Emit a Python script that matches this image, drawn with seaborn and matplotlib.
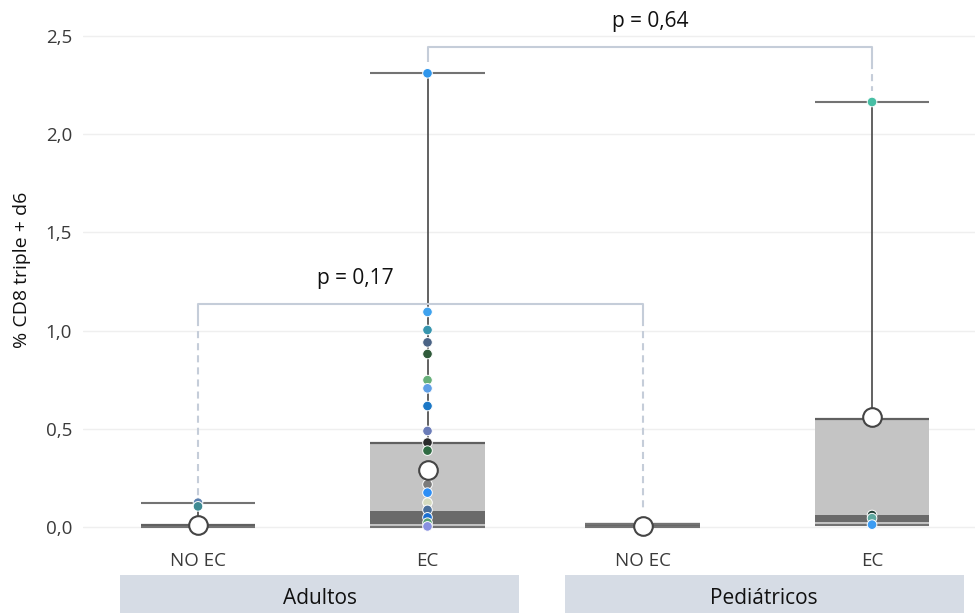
import matplotlib
matplotlib.use("Agg")
import matplotlib.pyplot as plt
import numpy as np
import pandas as pd
import seaborn as sns
from matplotlib.patches import Rectangle
from matplotlib.transforms import blended_transform_factory

# ---- data -------------------------------------------------------------
groups = ["Adultos", "Adultos", "Pediátricos", "Pediátricos"]
conditions = ["NO EC", "EC", "NO EC", "EC"]

box_min = [0.0, 0.0, 0.0, 0.012]
box_q1 = [0.0, 0.015, 0.0, 0.027]
box_median = [0.01, 0.083, 0.016, 0.061]
box_q3 = [0.01, 0.43, 0.016, 0.548]
box_max = [0.124, 2.31, 0.016, 2.164]
box_mean = [0.008, 0.29, 0.005, 0.562]

point_values = [
    [0.124, 0.105],
    [2.31, 1.095, 1.003, 0.94, 0.881, 0.748, 0.706, 0.616, 0.489, 0.43,
     0.389, 0.217, 0.175, 0.124, 0.087, 0.049, 0.022, 0.003],
    [],
    [2.164, 0.061, 0.045, 0.012],
]
point_colors = [
    ["#5b7fae", "#3f8a93"],
    ["#2f96ec", "#3fa2ee", "#3795ae", "#4a6385", "#2f5a3a", "#67b07a",
     "#5f9fe6", "#1c78c6", "#6b7cb8", "#2b2b2b", "#2f6b43", "#7b7b7b",
     "#2d8ef5", "#d6dbbf", "#4a6f9a", "#1b6fd0", "#5aa274", "#8890e0"],
    [],
    ["#47bfa5", "#1f3d33", "#5fa9a0", "#3c9cf2"],
]

comparisons = [(0, 2), (1, 3)]
p_labels = ["p = 0,17", "p = 0,64"]
bracket_y = [1.135, 2.445]
bracket_ends = [(0.155, 0.075), (2.37, 2.22)]

y_ticks = [0.0, 0.5, 1.0, 1.5, 2.0, 2.5]
y_ticklabels = ["0,0", "0,5", "1,0", "1,5", "2,0", "2,5"]
y_label = "% CD8 triple + d6"

# ---- layout / style ---------------------------------------------------
GROUP_STEP = 1.937
BOX_W = 0.5
LIGHT = "#c4c4c4"
DARK = "#6a6a6a"
EDGE = "#606060"
CAP = "#737373"
WHISK = "#555555"
BRACKET = "#c5cdd9"
STRIP = "#d6dce5"
TEXT = "#3a3a3a"

sns.set_theme(style="white")
plt.rcParams["font.family"] = ["Open Sans", "DejaVu Sans"]

group_order = list(dict.fromkeys(groups))
pos, seen = [], {}
for g in groups:
    k = seen.get(g, 0)
    pos.append(group_order.index(g) * GROUP_STEP + k)
    seen[g] = k + 1

fig = plt.figure(figsize=(9.75, 6.13), dpi=100)
ax = fig.add_axes([83 / 975, 73 / 613, 892 / 975, 540 / 613])

# boxes, whiskers and caps
for i, x in enumerate(pos):
    ax.bar(x, box_q3[i] - box_min[i], bottom=box_min[i], width=BOX_W,
           color=LIGHT, linewidth=0, zorder=1)
    ax.bar(x, box_median[i] - box_q1[i], bottom=box_q1[i], width=BOX_W,
           color=DARK, linewidth=0, zorder=1.5)
    ax.hlines(box_q3[i], x - BOX_W / 2, x + BOX_W / 2, color=EDGE, lw=1.6, zorder=2)
    ax.vlines(x, box_q3[i], box_max[i], color=WHISK, lw=1.3, zorder=2)
    ax.hlines([box_min[i], box_max[i]], x - BOX_W / 2, x + BOX_W / 2,
              color=CAP, lw=1.5, zorder=2)

# individual observations
rows = []
for i, (vals, cols) in enumerate(zip(point_values, point_colors)):
    for j, (v, c) in enumerate(zip(vals, cols)):
        rows.append({"x": pos[i], "value": v, "pid": f"{i}-{j}", "color": c})
pts = pd.DataFrame(rows)
sns.scatterplot(data=pts, x="x", y="value", hue="pid",
                palette=dict(zip(pts["pid"], pts["color"])),
                s=48, edgecolor="white", linewidth=0.7, legend=False,
                zorder=4, ax=ax)

# means
sns.scatterplot(x=pos, y=box_mean, color="white", edgecolor="#444444",
                linewidth=1.5, s=180, zorder=5, ax=ax)

# significance brackets
SOLID = 0.076
LABEL_SHIFT = [-0.285, 0.0]
for k, ((a, b), y, ends, lab) in enumerate(zip(comparisons, bracket_y,
                                               bracket_ends, p_labels)):
    xa, xb = pos[a], pos[b]
    ax.plot([xa, xa, xb, xb], [y - SOLID, y, y, y - SOLID], color=BRACKET,
            lw=1.5, solid_joinstyle="round", solid_capstyle="butt", zorder=3)
    for xx, end in zip((xa, xb), ends):
        if end < y - SOLID:
            ax.plot([xx, xx], [y - SOLID, end], color=BRACKET, lw=1.5,
                    dashes=(3.4, 2.4), zorder=3)
    ax.text((xa + xb) / 2 + LABEL_SHIFT[k], y + 0.13, lab, ha="center",
            va="center", fontsize=15, color="#111111")

# axes styling
ax.set_xlim((83 - 198) / 229.5, (975 - 198) / 229.5)
ax.set_ylim(-13 / 196.4, 527 / 196.4)
ax.set_yticks(y_ticks)
ax.set_yticklabels(y_ticklabels)
ax.set_xticks(pos)
ax.set_xticklabels(conditions)
ax.tick_params(axis="both", length=0, labelsize=13.5, labelcolor=TEXT)
ax.tick_params(axis="y", pad=8)
ax.tick_params(axis="x", pad=9)
ax.grid(axis="y", color="#efefef", lw=1)
ax.set_axisbelow(True)
for s in ax.spines.values():
    s.set_visible(False)
ax.set_xlabel("")
ax.set_ylabel(y_label, fontsize=14, color="#111111")
ax.yaxis.set_label_coords((31 - 83) / 892, 0.5)

# group strips under the category labels
trans = blended_transform_factory(ax.transData, fig.transFigure)
for g in group_order:
    gx = [p for p, gg in zip(pos, groups) if gg == g]
    x0, x1 = min(gx) - 0.34, max(gx) + 0.40
    fig.patches.append(Rectangle((x0, 0), x1 - x0, 38 / 613, transform=trans,
                                 facecolor=STRIP, edgecolor="none",
                                 figure=fig))
    fig.text((x0 + x1) / 2, 15 / 613, g, transform=trans, ha="center",
             va="center", fontsize=15, color="#111111")

fig.savefig("out.png", dpi=100)
